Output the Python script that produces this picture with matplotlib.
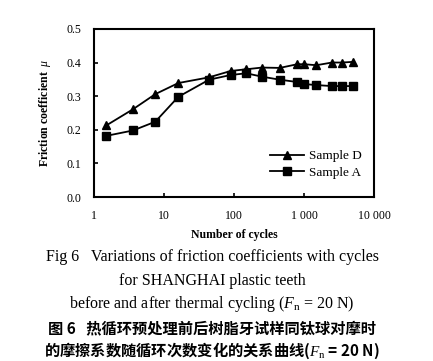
import matplotlib
matplotlib.use('Agg')
import matplotlib.pyplot as plt
import matplotlib.ticker as ticker

plt.rcParams['mathtext.fontset'] = 'custom'
plt.rcParams['mathtext.rm'] = 'Liberation Serif'
plt.rcParams['mathtext.it'] = 'Liberation Serif:italic'

# Data
cycles = [1.5, 3.6, 7.5, 16, 44, 90, 150, 250, 450, 800, 1000, 1500, 2500, 3500, 5000]
mu_d = [0.213, 0.261, 0.306, 0.339, 0.356, 0.375, 0.380, 0.385, 0.384, 0.395, 0.395, 0.392, 0.400, 0.400, 0.402]
mu_a = [0.182, 0.198, 0.224, 0.298, 0.349, 0.363, 0.368, 0.358, 0.349, 0.342, 0.336, 0.333, 0.330, 0.330, 0.330]

x_ticks = [1, 10, 100, 1000, 10000]
x_labels = ['1', '10', '100', '1 000', '10 000']
y_ticks = [0.0, 0.1, 0.2, 0.3, 0.4, 0.5]

caption_en = ['Fig 6   Variations of friction coefficients with cycles',
              'for SHANGHAI plastic teeth',
              r'before and after thermal cycling ($F_\mathrm{n}$ = 20 N)']
caption_zh = ['图 6   热循环预处理前后树脂牙试样同钛球对摩时',
              r'的摩擦系数随循环次数变化的关系曲线($F_\mathrm{n}$ = 20 N)']

serif = ['Liberation Serif', 'DejaVu Serif']
cjk = ['Noto Sans CJK SC', 'Liberation Serif']

fig = plt.figure(figsize=(4.33, 3.61), dpi=100)
ax = fig.add_axes([0.217, 0.454, 0.647, 0.466])

ax.plot(cycles, mu_d, color='black', lw=1.3, marker='^', ms=6, label='Sample D')
ax.plot(cycles, mu_a, color='black', lw=1.3, marker='s', ms=5.5, label='Sample A')

ax.set_xscale('log')
ax.set_xlim(1, 10000)
ax.set_ylim(0, 0.5)
ax.set_xticks(x_ticks)
ax.set_xticklabels(x_labels)
ax.xaxis.set_minor_locator(ticker.NullLocator())
ax.set_yticks(y_ticks)
ax.set_yticklabels(['%.1f' % v for v in y_ticks])
ax.tick_params(direction='in', length=3, width=1.2, labelsize=8.5, pad=9)
for lab in ax.get_xticklabels() + ax.get_yticklabels():
    lab.set_family(serif)
for s in ax.spines.values():
    s.set_linewidth(1.5)

ax.set_xlabel('Number of cycles', family=serif, fontsize=8.5, fontweight='bold', labelpad=5)
ax.set_ylabel(r'Friction coefficient  $\mu$', family=serif, fontsize=8.5, fontweight='bold', labelpad=10)

leg = ax.legend(loc='lower right', bbox_to_anchor=(1.0, 0.04), frameon=False,
                handlelength=2.6, handletextpad=0.4, labelspacing=0.3,
                prop={'family': serif, 'size': 9.5})

y_pos = [0.288, 0.222, 0.158]
for txt, y in zip(caption_en, y_pos):
    fig.text(0.49, y, txt, ha='center', va='center', family=serif, fontsize=11.5)
y_pos_zh = [0.091, 0.029]
for txt, y in zip(caption_zh, y_pos_zh):
    fig.text(0.49, y, txt, ha='center', va='center', family=cjk, fontsize=11, fontweight='bold')

fig.savefig('out.png', dpi=100)
